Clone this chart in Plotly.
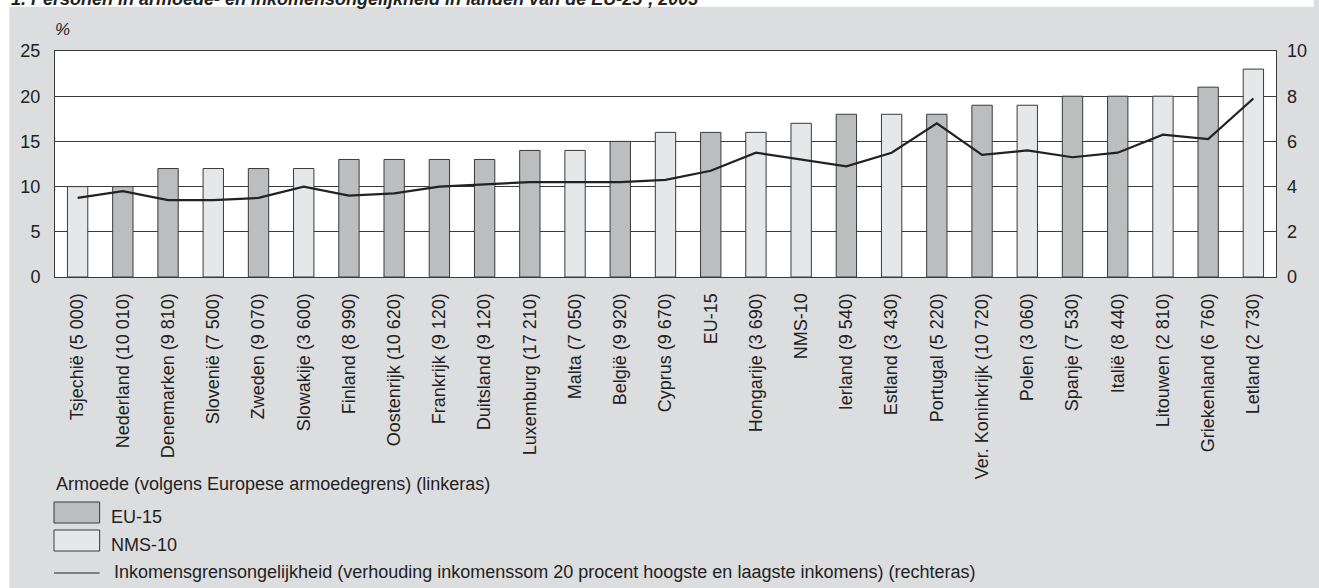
import plotly.graph_objects as go

# categorieen (land met inkomensgrens tussen haakjes)
landen = [
    "Tsjechië (5 000)", "Nederland (10 010)", "Denemarken (9 810)", "Slovenië (7 500)",
    "Zweden (9 070)", "Slowakije (3 600)", "Finland (8 990)", "Oostenrijk (10 620)",
    "Frankrijk (9 120)", "Duitsland (9 120)", "Luxemburg (17 210)", "Malta (7 050)",
    "België (9 920)", "Cyprus (9 670)", "EU-15", "Hongarije (3 690)", "NMS-10",
    "Ierland (9 540)", "Estland (3 430)", "Portugal (5 220)", "Ver. Koninkrijk (10 720)",
    "Polen (3 060)", "Spanje (7 530)", "Italië (8 440)", "Litouwen (2 810)",
    "Griekenland (6 760)", "Letland (2 730)",
]
# groep per land: E = EU-15, N = NMS-10
groep = ["N", "E", "E", "N", "E", "N", "E", "E", "E", "E", "E", "N", "E", "N",
         "E", "N", "N", "E", "N", "E", "E", "N", "E", "E", "N", "E", "N"]
# armoede in % (linkeras)
armoede = [10, 10, 12, 12, 12, 12, 13, 13, 13, 13, 14, 14, 15, 16, 16, 16, 17,
           18, 18, 18, 19, 19, 20, 20, 20, 21, 23]
# inkomensongelijkheid (rechteras)
ongelijkheid = [3.5, 3.8, 3.4, 3.4, 3.5, 4.0, 3.6, 3.7, 4.0, 4.1, 4.2, 4.2, 4.2,
                4.3, 4.7, 5.5, 5.2, 4.9, 5.5, 6.8, 5.4, 5.6, 5.3, 5.5, 6.3, 6.1, 7.9]

links_ticks = [0, 5, 10, 15, 20, 25]
rechts_ticks = [0, 2, 4, 6, 8, 10]

eu15 = [v if g == "E" else None for v, g in zip(armoede, groep)]
nms10 = [v if g == "N" else None for v, g in zip(armoede, groep)]

W, H = 1319, 588
ML, MR, MT, MB = 55, 33, 51, 311
PW, PH = W - ML - MR, H - MT - MB
BG = "#dcdddf"
DONKER = "#bcbdbf"
LICHT = "#e6e7e8"
RAND = "#3a3a3a"
TEKST = "#222222"
FONT = "Liberation Sans, Arial, sans-serif"


def px(x):
    return (x - ML) / PW


def py(y):
    return (H - MB - y) / PH


fig = go.Figure()
fig.add_trace(go.Bar(x=landen, y=eu15, name="EU-15", width=0.45,
                     marker=dict(color=DONKER, line=dict(color=RAND, width=1))))
fig.add_trace(go.Bar(x=landen, y=nms10, name="NMS-10", width=0.45,
                     marker=dict(color=LICHT, line=dict(color=RAND, width=1))))
fig.add_trace(go.Scatter(x=landen, y=ongelijkheid, yaxis="y2", mode="lines",
                         line=dict(color=TEKST, width=2.2),
                         name="Inkomensgrensongelijkheid"))

shapes = [
    # witte band boven en links
    dict(type="rect", xref="paper", yref="paper", x0=px(-5), x1=px(W + 5),
         y0=py(6.7), y1=py(-5), fillcolor="white", line_width=0, layer="below"),
    dict(type="rect", xref="paper", yref="paper", x0=px(-5), x1=px(9),
         y0=py(H + 5), y1=py(-5), fillcolor="white", line_width=0, layer="below"),
    # legenda
    dict(type="rect", xref="paper", yref="paper", x0=px(54), x1=px(100),
         y0=py(523), y1=py(502), fillcolor=DONKER, line=dict(color=RAND, width=1)),
    dict(type="rect", xref="paper", yref="paper", x0=px(54), x1=px(100),
         y0=py(551), y1=py(530), fillcolor=LICHT, line=dict(color=RAND, width=1)),
    dict(type="line", xref="paper", yref="paper", x0=px(54), x1=px(100),
         y0=py(573), y1=py(573), line=dict(color=TEKST, width=1.2)),
]

annotations = [
    dict(text="<b><i>1. Personen in armoede- en inkomensongelijkheid in landen van de EU-25¹, 2003</i></b>",
         xref="paper", yref="paper", x=px(9), y=py(-0.5), xanchor="left", yanchor="middle",
         showarrow=False, font=dict(size=18, color=TEKST)),
    dict(text="<i>%</i>", xref="paper", yref="paper", x=px(53), y=py(29),
         xanchor="left", yanchor="middle", showarrow=False, font=dict(size=17, color=TEKST)),
    dict(text="Armoede (volgens Europese armoedegrens) (linkeras)", xref="paper", yref="paper",
         x=px(54), y=py(484), xanchor="left", yanchor="middle", showarrow=False),
    dict(text="EU-15", xref="paper", yref="paper", x=px(109), y=py(517),
         xanchor="left", yanchor="middle", showarrow=False),
    dict(text="NMS-10", xref="paper", yref="paper", x=px(109), y=py(545),
         xanchor="left", yanchor="middle", showarrow=False),
    dict(text="Inkomensgrensongelijkheid (verhouding inkomenssom 20 procent hoogste en laagste inkomens) (rechteras)",
         xref="paper", yref="paper", x=px(112), y=py(572), xanchor="left", yanchor="middle",
         showarrow=False),
]

fig.update_layout(
    width=W, height=H,
    margin=dict(l=ML, r=MR, t=MT, b=MB, pad=0),
    paper_bgcolor=BG,
    plot_bgcolor="white",
    font=dict(family=FONT, size=18, color=TEKST),
    barmode="overlay",
    showlegend=False,
    shapes=shapes,
    annotations=annotations,
    xaxis=dict(
        type="category",
        range=[-0.5, len(landen) - 0.5],
        tickangle=-90,
        showgrid=False,
        showline=True, linecolor=RAND, linewidth=1, mirror=True,
        ticks="", ticklabelstandoff=8,
        tickfont=dict(size=18, color=TEKST),
    ),
    yaxis=dict(
        range=[0, 25],
        tickvals=links_ticks,
        showgrid=True, gridcolor=RAND, gridwidth=1,
        zeroline=False,
        showline=True, linecolor=RAND, linewidth=1, mirror=True,
        ticks="", ticklabelstandoff=10,
        tickfont=dict(size=18, color=TEKST),
    ),
    yaxis2=dict(
        range=[0, 10],
        tickvals=rechts_ticks,
        overlaying="y", side="right",
        showgrid=False, zeroline=False,
        showline=False,
        ticks="", ticklabelstandoff=10,
        tickfont=dict(size=18, color=TEKST),
    ),
)

# pagina zonder marge, zodat de figuur precies het venster vult
fig.write_html(
    "out.html", config={"displayModeBar": False},
    post_script=("document.documentElement.style.margin='0';"
                 "document.documentElement.style.background='" + BG + "';"
                 "document.documentElement.style.overflow='hidden';"
                 "document.body.style.margin='0';"
                 "document.body.style.overflow='hidden';"),
)
